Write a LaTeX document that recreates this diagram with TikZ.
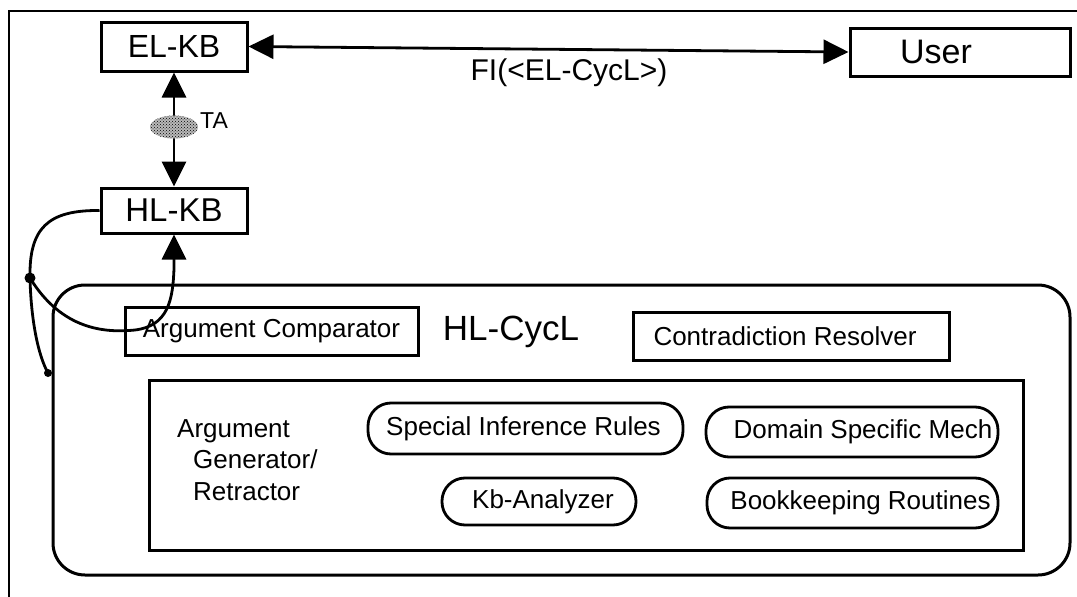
\documentclass[tikz,border=0pt]{standalone}
\usepackage{fontspec}
\setmainfont{Liberation Sans}
\usetikzlibrary{arrows.meta,shapes.geometric,patterns}
\begin{document}
\begin{tikzpicture}[x=1pt,y=-1pt,
  box/.style={draw,line width=3pt,inner sep=0pt,rectangle},
  pill/.style={draw,line width=2.8pt,inner sep=0pt,rectangle,rounded corners=23pt},
  lbl/.style={inner sep=0pt,font=\fontsize{26}{31.5}\selectfont},
  big/.style={font=\fontsize{32}{34}\selectfont},
  conn/.style={line width=2.8pt},
  tip/.tip={Triangle[length=25pt,width=24pt]},
  dot/.style={circle,fill=black,inner sep=0pt,minimum size=11pt}]
\useasboundingbox (0,0) rectangle (1077,597);
% frame
\draw[line width=2.2pt] (9,597) -- (9,11) -- (1077,11);
% top boxes
\node[box,big,minimum width=146pt,minimum height=49pt] (elkb) at (174,46.5) {EL-KB};
\node[box,big,minimum width=146pt,minimum height=45pt] (hlkb) at (174,210.5) {\fontsize{33}{34}\selectfont HL-KB};
\node[box,minimum width=220pt,minimum height=48pt,font=\fontsize{34}{36}\selectfont] (user) at (960,52) {User\hspace*{48pt}};
\node[inner sep=0pt,font=\fontsize{30}{32}\selectfont] (fi) at (569,73) {FI(<EL-CycL>)};
\draw[conn,{tip}-{tip}] (elkb.east) -- (user.west);
\draw[conn,{tip}-{tip}] (elkb.south) -- (hlkb.north);
\node[ellipse,draw=none,minimum width=48pt,minimum height=23pt,inner sep=0pt,
      preaction={fill=gray!55},pattern=crosshatch dots,pattern color=black] (ta) at (174,127) {};
\node[inner sep=0pt,font=\fontsize{23}{24}\selectfont] (talbl) at (214,121) {TA};
% HL-CycL container
\node[draw,line width=3pt,rectangle,rounded corners=32pt,minimum width=1017pt,minimum height=290pt,inner sep=0pt] (hlbox) at (561.5,430) {};
\node[inner sep=0pt,font=\fontsize{35}{37}\selectfont] (hlcycl) at (511,332) {HL-CycL};
\node[box,lbl,minimum width=293pt,minimum height=48pt] (argcomp) at (271.5,331) {Argument Comparator};
\node[box,lbl,minimum width=316pt,minimum height=48pt] (contra) at (791,336) {Contradiction Resolver\hspace*{12pt}};
% inner generator box
\node[box,minimum width=874pt,minimum height=170pt] (gen) at (586,465) {};
\node[lbl,align=left,anchor=west] (agr) at (177,460) {Argument\\\hspace*{16pt}Generator/\\\hspace*{16pt}Retractor};
\node[pill,lbl,minimum width=315pt,minimum height=51pt] (sir) at (525.5,428.5) {Special Inference Rules\hspace*{4pt}};
\node[pill,lbl,minimum width=292pt,minimum height=50pt] (dsm) at (852,432) {\hspace*{22pt}Domain Specific Mech};
\node[pill,lbl,minimum width=194pt,minimum height=47pt] (kba) at (539,501.5) {\hspace*{8pt}Kb-Analyzer};
\node[pill,lbl,minimum width=291pt,minimum height=50pt] (bkr) at (852.5,503) {\hspace*{16pt}Bookkeeping Routines};
% feedback curves
\node[dot] (j1) at (30,278) {};
\node[circle,fill=black,inner sep=0pt,minimum size=8pt] (j2) at (48,373) {};
\draw[conn] (hlkb.west) .. controls (48,210) and (29,228) .. (j1.center);
\draw[conn] (j1.center) .. controls (31,320) and (38,355) .. (j2.center);
\draw[conn,-{tip}] (j1.center) .. controls (62,330) and (105,333) .. (135,330)
   .. controls (168,326) and (173,300) .. (174,268) -- (hlkb.south);
\end{tikzpicture}
\end{document}
